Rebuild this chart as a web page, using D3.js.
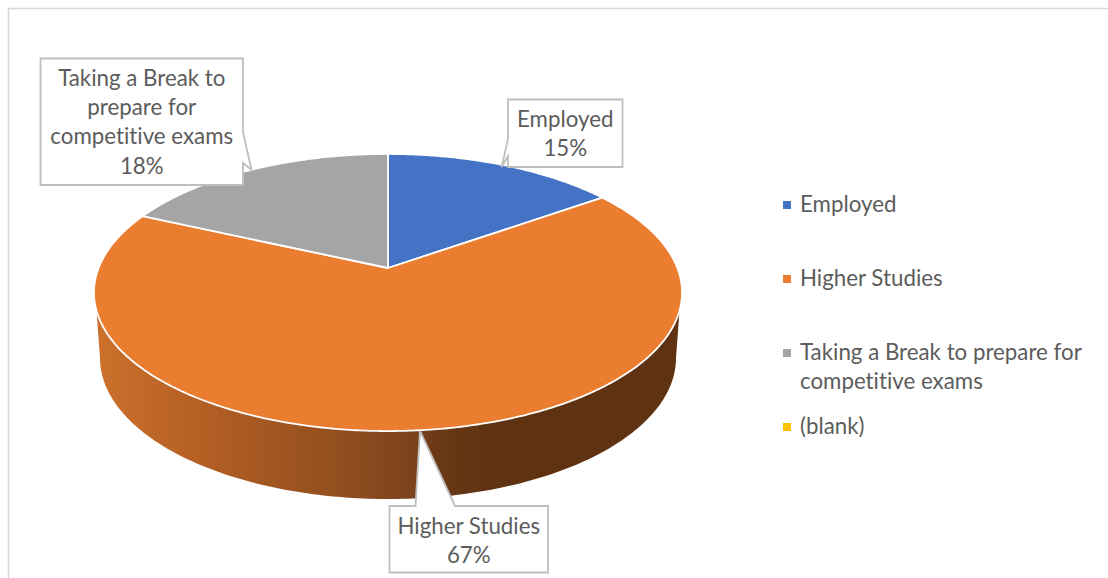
<!DOCTYPE html>
<html><head><meta charset="utf-8">
<style>html,body{margin:0;padding:0;background:#fff;overflow:hidden}svg{display:block}text{font-family:Lato,"Open Sans",sans-serif;fill:#5c5c5c;font-variant-ligatures:none;font-feature-settings:"liga" 0}</style>
<script src="https://cdn.jsdelivr.net/npm/d3@7"></script></head>
<body><svg id="c" width="1108" height="578"></svg>
<script>
const categories = ["Employed", "Higher Studies", "Taking a Break to prepare for competitive exams", "(blank)"];
const values = [15.2, 66.6, 18.2, 0];
const colors = ["#4472C4", "#EB7D31", "#A5A5A5", "#FFC000"];
const legendLines = [["Employed"], ["Higher Studies"], ["Taking a Break to prepare for", "competitive exams"], ["(blank)"]];
const labelLines = [["Employed"], ["Higher Studies"], ["Taking a Break to", "prepare for", "competitive exams"]];

const svg = d3.select("#c");
const FS = 22.3;
const color = d3.scaleOrdinal(categories, colors);
const total = d3.sum(values);

// chart frame
svg.append("path").attr("d", "M8.5,578V8.5H1108").attr("fill", "none").attr("stroke", "#d9d9d9").attr("stroke-width", 1.6);

// perspective projection of the unit disc onto the tilted pie top
const cx = 388, R = 289.4, a = 86.8, b = 268, k = -0.1769;
function project(theta) {
  const u = Math.sin(theta), v = -Math.cos(theta), d = 1 + k * v;
  return [cx + R * u / d, (a * v + b) / d];
}
const pie = d3.pie().sort(null).value(d => d).startAngle(0).endAngle(2 * Math.PI);
const arcs = pie(values);
const line = d3.line();
function arcPoints(s, e) {
  const n = Math.max(2, Math.ceil(Math.abs(e - s) / 0.01));
  return d3.range(n + 1).map(i => project(s + (e - s) * i / n));
}

// side wall of the Higher Studies slice
const defs = svg.append("defs");
const grad = defs.append("linearGradient").attr("id", "wall").attr("gradientUnits", "userSpaceOnUse")
  .attr("x1", 95).attr("x2", 682).attr("y1", 0).attr("y2", 0);
[[0, "#cc712c"], [0.2, "#b15d23"], [0.4, "#94501f"], [0.55, "#7a421b"], [0.58, "#6b3916"], [0.68, "#5f3211"], [1, "#5f3211"]]
  .forEach(s => grad.append("stop").attr("offset", s[0]).attr("stop-color", s[1]));
const toRad = Math.PI / 180;
const wallTop = arcPoints(252.5 * toRad, 107.5 * toRad);
const wallBottom = d3.range(0, 181, 1).map(t => [cx + 288 * Math.cos(t * toRad), 358 + 141 * Math.sin(t * toRad)]);
svg.append("path").attr("d", line(wallTop.concat(wallBottom)) + "Z").attr("fill", "url(#wall)");

// top faces
svg.append("g").selectAll("path").data(arcs.filter(d => d.value > 0)).join("path")
  .attr("d", d => line([[cx, b]].concat(arcPoints(d.startAngle, d.endAngle))) + "Z")
  .attr("fill", d => color(categories[d.index]))
  .attr("stroke", "#fff").attr("stroke-width", 1.8).attr("stroke-linejoin", "round");

// callouts
const callouts = [
  { i: 0, x0: 508, x1: 622.5, ptr: "M508,99.5H622.5V167H508V156L501.7,167L508,139Z", tb: 127 },
  { i: 1, x0: 389.5, x1: 548, ptr: "M389.5,506H415.5L420,431L455,506H548V572.5H389.5Z", tb: 534 },
  { i: 2, x0: 40.5, x1: 243, ptr: "M40.5,58.5H243V132L251.5,170L243,163V185H40.5Z", tb: 86 }
];
const lineH = 29.2;
callouts.forEach(c => {
  const g = svg.append("g");
  g.append("path").attr("d", c.ptr).attr("fill", "#fff").attr("stroke", "#bfbfbf").attr("stroke-width", 1.8).attr("stroke-linejoin", "miter");
  const lines = labelLines[c.i].concat([Math.round(values[c.i] / total * 100) + "%"]);
  g.selectAll("text").data(lines).join("text")
    .attr("x", (c.x0 + c.x1) / 2).attr("y", (d, j) => c.tb + j * lineH)
    .attr("text-anchor", "middle").attr("font-size", FS).text(d => d);
});

// legend
const legendY = d3.scalePoint().domain(categories).range([205, 427]);
const lg = svg.append("g").selectAll("g").data(categories).join("g");
lg.append("rect").attr("x", 783).attr("y", d => legendY(d) - 4).attr("width", 8).attr("height", 8).attr("fill", d => color(d));
lg.each(function (d, i) {
  d3.select(this).selectAll("text").data(legendLines[i]).join("text")
    .attr("x", 800).attr("y", (t, j) => legendY(d) + 7 + j * 28.5).attr("font-size", FS).text(t => t);
});
</script></body></html>
